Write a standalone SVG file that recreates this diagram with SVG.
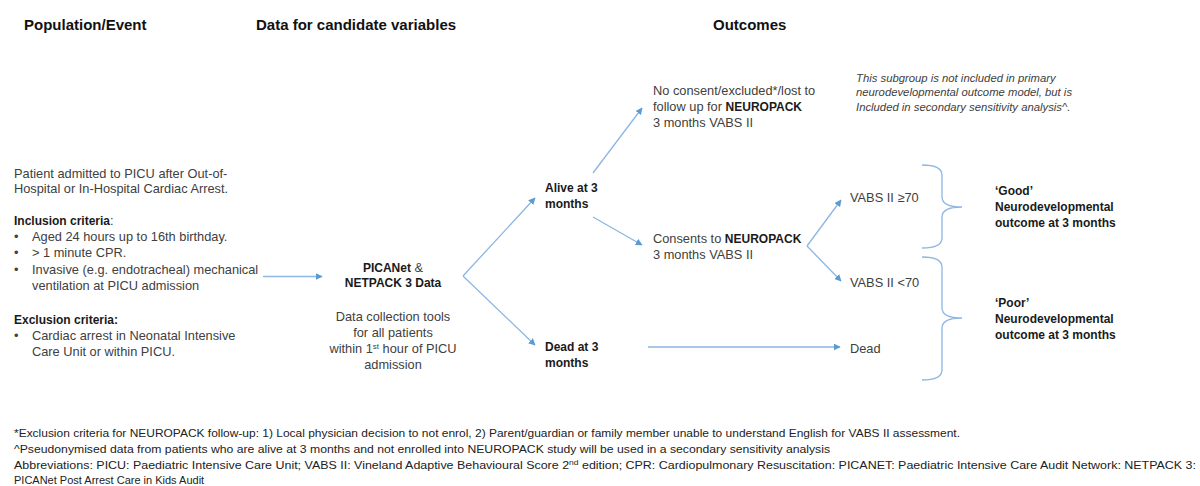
<svg xmlns="http://www.w3.org/2000/svg" width="1200" height="486" viewBox="0 0 1200 486">
<style>
text{font-family:"Liberation Sans",Arial,sans-serif;fill:#404040;font-size:12.8px}
.h{font-size:15px;font-weight:bold;fill:#111}
.b{font-weight:bold;fill:#1a1a1a;font-size:12px}
.bb{font-weight:bold;fill:#1a1a1a;font-size:12px}
.i{font-style:italic;font-size:11.3px;fill:#404040}
.f{font-size:11px;fill:#222}
.c{text-anchor:middle}
.ln{stroke:#8db6e2;stroke-width:1.3;fill:none}
.br{stroke:#8db6e2;stroke-width:1.3;fill:none}
</style>
<defs>
<marker id="ah" viewBox="0 0 10 10" refX="9" refY="5" markerWidth="7" markerHeight="7" markerUnits="userSpaceOnUse" orient="auto">
<path d="M0,0 L10,5 L0,10 z" fill="#5b9bd5"/>
</marker>
</defs>

<g id="headers">
<text class="h" x="24" y="30">Population/Event</text>
<text class="h" x="256" y="30">Data for candidate variables</text>
<text class="h" x="713" y="30">Outcomes</text>
</g>

<g id="population">
<text x="14" y="178">Patient admitted to PICU after Out-of-</text>
<text x="14" y="193">Hospital or In-Hospital Cardiac Arrest.</text>
<text x="14" y="225"><tspan class="bb">Inclusion criteria</tspan>:</text>
<text x="14" y="241">•</text><text x="32" y="241">Aged 24 hours up to 16th birthday.</text>
<text x="14" y="257">•</text><text x="32" y="257">&gt; 1 minute CPR.</text>
<text x="14" y="274">•</text><text x="32" y="274">Invasive (e.g. endotracheal) mechanical</text>
<text x="32" y="290">ventilation at PICU admission</text>
<text class="bb" x="14" y="324">Exclusion criteria:</text>
<text x="14" y="340">•</text><text x="32" y="340">Cardiac arrest in Neonatal Intensive</text>
<text x="32" y="356">Care Unit or within PICU.</text>
</g>

<g id="data">
<text class="c" x="393" y="272"><tspan class="bb">PICANet</tspan> &amp;</text>
<text class="c bb" x="393" y="287">NETPACK 3 Data</text>
<text class="c" x="393" y="321">Data collection tools</text>
<text class="c" x="393" y="337">for all patients</text>
<text class="c" x="393" y="353">within 1<tspan font-size="8" dy="-4">st</tspan><tspan dy="4"> hour of PICU</tspan></text>
<text class="c" x="393" y="369">admission</text>
</g>

<g id="alive">
<text class="b" x="545" y="192">Alive at 3</text>
<text class="b" x="545" y="208">months</text>
</g>
<g id="dead3">
<text class="b" x="545" y="351">Dead at 3</text>
<text class="b" x="545" y="367">months</text>
</g>

<g id="noconsent">
<text x="653" y="95">No consent/excluded*/lost to</text>
<text x="653" y="111">follow up for <tspan class="bb">NEUROPACK</tspan></text>
<text x="653" y="127">3 months VABS II</text>
</g>

<g id="note">
<text class="i" x="856" y="82">This subgroup is not included in primary</text>
<text class="i" x="856" y="96">neurodevelopmental outcome model, but is</text>
<text class="i" x="856" y="111">Included in secondary sensitivity analysis^.</text>
</g>

<g id="consents">
<text x="653" y="243">Consents to <tspan class="bb">NEUROPACK</tspan></text>
<text x="653" y="259">3 months VABS II</text>
</g>

<g id="vabs70plus"><text x="850" y="202">VABS II ≥70</text></g>
<g id="vabs70minus"><text x="850" y="287">VABS II &lt;70</text></g>
<g id="dead"><text x="850" y="353">Dead</text></g>

<g id="good">
<text class="b" x="995" y="195">‘Good’</text>
<text class="b" x="995" y="211">Neurodevelopmental</text>
<text class="b" x="995" y="227">outcome at 3 months</text>
</g>
<g id="poor">
<text class="b" x="995" y="307">‘Poor’</text>
<text class="b" x="995" y="323">Neurodevelopmental</text>
<text class="b" x="995" y="339">outcome at 3 months</text>
</g>

<g id="connectors">
<line class="ln" x1="263" y1="276.5" x2="322" y2="276.5" marker-end="url(#ah)"/>
<line class="ln" x1="463" y1="276" x2="535" y2="198" marker-end="url(#ah)"/>
<line class="ln" x1="463" y1="276" x2="535" y2="345" marker-end="url(#ah)"/>
<line class="ln" x1="593" y1="173" x2="642" y2="108" marker-end="url(#ah)"/>
<line class="ln" x1="593" y1="217" x2="642" y2="245" marker-end="url(#ah)"/>
<line class="ln" x1="807" y1="246" x2="841" y2="200" marker-end="url(#ah)"/>
<line class="ln" x1="807" y1="246" x2="841" y2="281" marker-end="url(#ah)"/>
<line class="ln" x1="648" y1="347" x2="840" y2="347" marker-end="url(#ah)"/>
<path class="br" d="M922,165 Q942,165 942,175 L942,197 Q942,207 962,207 Q942,207 942,217 L942,238 Q942,248 922,248"/>
<path class="br" d="M922,257 Q942,257 942,267 L942,308 Q942,318 962,318 Q942,318 942,328 L942,370 Q942,380 922,380"/>
</g>

<g id="footnotes">
<text class="f" x="14" y="437" textLength="946" lengthAdjust="spacingAndGlyphs">*Exclusion criteria for NEUROPACK follow-up: 1) Local physician decision to not enrol, 2) Parent/guardian or family member unable to understand English for VABS II assessment.</text>
<text class="f" x="14" y="453" textLength="816" lengthAdjust="spacingAndGlyphs">^Pseudonymised data from patients who are alive at 3 months and not enrolled into NEUROPACK study will be used in a secondary sensitivity analysis</text>
<text class="f" x="14" y="469" textLength="1182" lengthAdjust="spacingAndGlyphs">Abbreviations: PICU: Paediatric Intensive Care Unit; VABS II: Vineland Adaptive Behavioural Score 2<tspan font-size="7.5" dy="-4">nd</tspan><tspan dy="4"> edition; CPR: Cardiopulmonary Resuscitation: PICANET: Paediatric Intensive Care Audit Network: NETPACK 3:</tspan></text>
<text class="f" x="14" y="484">PICANet Post Arrest Care in Kids Audit</text>
</g>
</svg>
